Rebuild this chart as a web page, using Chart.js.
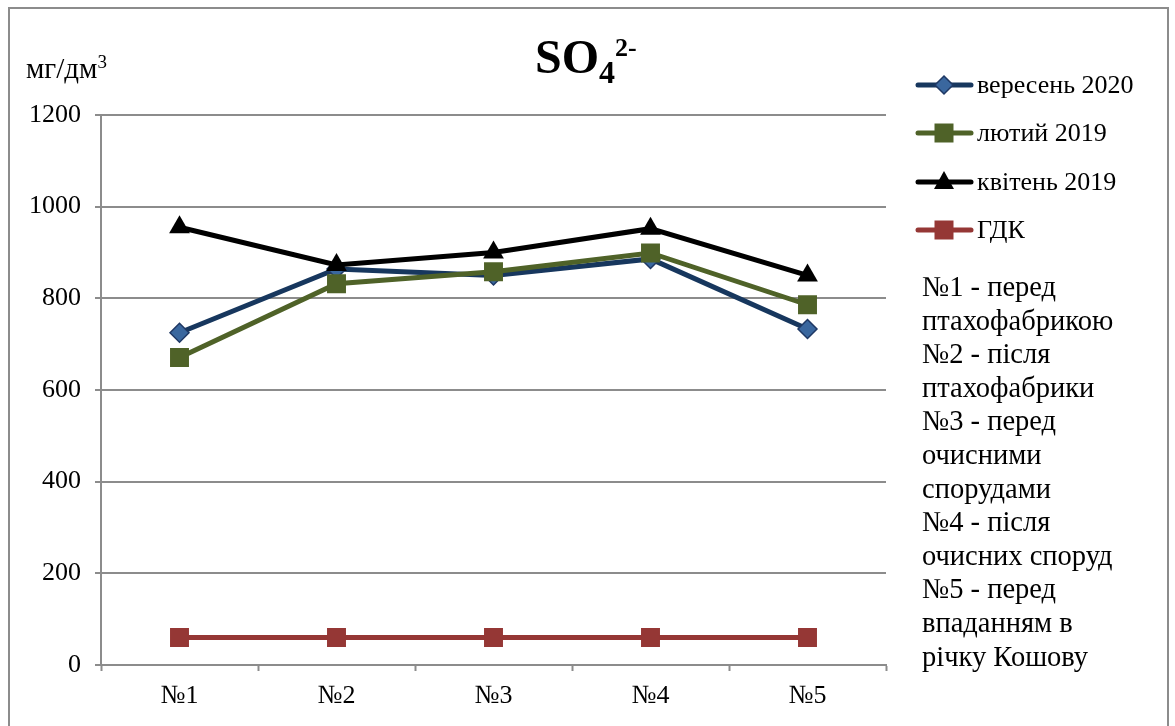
<!DOCTYPE html>
<html>
<head>
<meta charset="utf-8">
<script src="https://cdn.jsdelivr.net/npm/chart.js@4"></script>
<style>
    html, body { margin: 0; padding: 0; background: #fff; }
    #wrap { position: relative; width: 1175px; height: 726px; overflow: hidden; }
</style>
</head>
<body>
<div id="wrap"><canvas id="chart" width="1175" height="726"></canvas></div>
<script>
// Data
const labels = ["№1", "№2", "№3", "№4", "№5"];
const seriesNames = ["вересень 2020", "лютий 2019", "квітень 2019", "ГДК"];
const sep2020 = [725, 864, 850, 886, 733];
const feb2019 = [671, 832, 858, 899, 786];
const apr2019 = [955, 873, 900, 952, 850];
const gdk = [60, 60, 60, 60, 60];
const yTicks = [0, 200, 400, 600, 800, 1000, 1200];
const notes = [
    "№1 - перед",
    "птахофабрикою",
    "№2 - після",
    "птахофабрики",
    "№3 - перед",
    "очисними",
    "спорудами",
    "№4 - після",
    "очисних споруд",
    "№5 - перед",
    "впаданням в",
    "річку Кошову"
];

const FONT = "'Liberation Serif', 'Times New Roman', serif";

// marker shapes for the legend
function drawMarker(ctx, style, x, y) {
    if (style === "rectRot") {
        ctx.moveTo(x, y - 9); ctx.lineTo(x + 9, y); ctx.lineTo(x, y + 9); ctx.lineTo(x - 9, y); ctx.closePath();
    } else if (style === "triangle") {
        ctx.moveTo(x, y - 11); ctx.lineTo(x + 10, y + 7); ctx.lineTo(x - 10, y + 7); ctx.closePath();
    } else {
        ctx.rect(x - 9.5, y - 9.5, 19, 19);
    }
}

// Draw frame, title, unit label, legend and notes
const extras = {
    id: "extras",
    afterDraw(chart) {
        const ctx = chart.ctx;
        ctx.save();

        // outer frame
        ctx.strokeStyle = "#8c8c8c";
        ctx.lineWidth = 2;
        ctx.strokeRect(9, 8, 1159, 740);

        ctx.fillStyle = "#000";
        ctx.textBaseline = "alphabetic";
        ctx.textAlign = "left";

        // title SO4 2-
        ctx.font = "bold 48px " + FONT;
        ctx.fillText("SO", 535, 73);
        let w = ctx.measureText("SO").width;
        ctx.font = "bold 32px " + FONT;
        ctx.fillText("4", 535 + w, 83);
        let w4 = ctx.measureText("4").width;
        ctx.font = "bold 26px " + FONT;
        ctx.fillText("2-", 535 + w + w4, 56);

        // unit label
        ctx.font = "29px " + FONT;
        ctx.fillText("мг/дм", 26, 78);
        w = ctx.measureText("мг/дм").width;
        ctx.font = "19px " + FONT;
        ctx.fillText("3", 26 + w, 68);

        // legend
        const ys = [85, 133, 182, 230];
        chart.data.datasets.forEach((ds, i) => {
            const y = ys[i];
            ctx.strokeStyle = ds.borderColor;
            ctx.lineWidth = 5;
            ctx.lineCap = "round";
            ctx.beginPath();
            ctx.moveTo(918, y);
            ctx.lineTo(971, y);
            ctx.stroke();
            ctx.fillStyle = ds.pointBackgroundColor;
            ctx.strokeStyle = ds.pointBorderColor;
            ctx.lineWidth = ds.pointBorderWidth;
            ctx.beginPath();
            drawMarker(ctx, ds.pointStyle, 944, y);
            ctx.fill();
            if (ds.pointBorderWidth) ctx.stroke();
            ctx.fillStyle = "#000";
            ctx.font = "26px " + FONT;
            ctx.textBaseline = "middle";
            ctx.fillText(ds.label, 977, y + 1);
        });

        // notes
        ctx.textBaseline = "alphabetic";
        ctx.font = "28.5px " + FONT;
        notes.forEach((line, i) => {
            ctx.fillText(line, 922, 296 + i * 33.6);
        });

        ctx.restore();
    }
};

function makeDataset(label, data, line, fill, border, style, radius, order) {
    return {
        label: label,
        data: data,
        borderColor: line,
        borderWidth: 5,
        pointStyle: style,
        pointRadius: radius,
        pointHoverRadius: radius,
        pointBackgroundColor: fill,
        pointBorderColor: border,
        pointBorderWidth: style === "rectRot" ? 1.5 : 0,
        tension: 0,
        order: order
    };
}

const ctx = document.getElementById("chart").getContext("2d");
const myChart = new Chart(ctx, {
    type: "line",
    data: {
        labels: labels,
        datasets: [
            makeDataset(seriesNames[0], sep2020, "#17375E", "#3A679E", "#1F3864", "rectRot", 9.5, 3),
            makeDataset(seriesNames[1], feb2019, "#4F6228", "#4F6228", "#4F6228", "rect", 13.4, 2),
            makeDataset(seriesNames[2], apr2019, "#000000", "#000000", "#000000", "triangle", 12, 1),
            makeDataset(seriesNames[3], gdk, "#953735", "#953735", "#953735", "rect", 13.4, 4)
        ]
    },
    options: {
        responsive: false,
        devicePixelRatio: 1,
        animation: false,
        layout: { padding: { left: 0, top: 115, right: 289, bottom: 0 } },
        plugins: {
            legend: { display: false },
            title: { display: false },
            tooltip: { enabled: false }
        },
        scales: {
            x: {
                offset: true,
                grid: {
                    offset: true,
                    drawOnChartArea: false,
                    drawTicks: true,
                    tickLength: 6,
                    tickWidth: 2,
                    tickColor: "#8c8c8c"
                },
                border: { color: "#8c8c8c", width: 2 },
                ticks: {
                    color: "#000",
                    font: { family: FONT, size: 26 },
                    padding: 10,
                    maxRotation: 0
                },
                afterFit(scale) { scale.height = 61; }
            },
            y: {
                min: 0,
                max: 1200,
                afterBuildTicks(scale) { scale.ticks = yTicks.map(v => ({ value: v })); },
                grid: {
                    color: "#8c8c8c",
                    lineWidth: 2,
                    drawTicks: true,
                    tickLength: 6,
                    tickColor: "#8c8c8c"
                },
                border: { color: "#8c8c8c", width: 2 },
                ticks: {
                    color: "#000",
                    font: { family: FONT, size: 26 },
                    padding: 14,
                    callback: (value) => String(value)
                },
                afterFit(scale) { scale.width = 101; }
            }
        }
    },
    plugins: [extras]
});
</script>
</body>
</html>
